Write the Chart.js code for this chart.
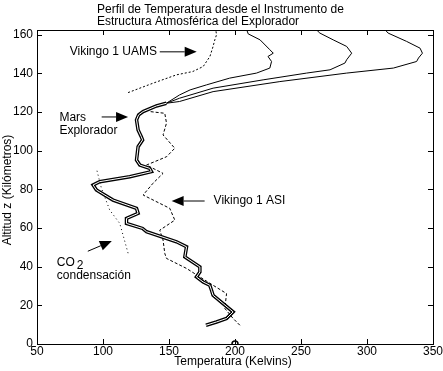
<!DOCTYPE html>
<html>
<head>
<meta charset="utf-8">
<script src="https://cdn.jsdelivr.net/npm/chart.js@4"></script>
<style>
  html, body { margin: 0; padding: 0; background: #fff; }
  #wrap { width: 443px; height: 371px; position: relative; }
</style>
</head>
<body>
<div id="wrap"><canvas id="grafica"></canvas></div>
<script>
// Ejes
const xTicks = [50, 100, 150, 200, 250, 300, 350];
const yTicks = [0, 20, 40, 60, 80, 100, 120, 140, 160];

// Perfil del Explorador (parte comun, T en K, z en km)
const marsLower = [
  [178, 9.7], [186, 11.4], [193.6, 13.2], [198.6, 16.6], [191, 20.9], [183.4, 25.2],
  [182.2, 27.8], [180.9, 30.4], [175.9, 32.1], [170.8, 34.7], [173.4, 37.3], [173.4, 39.9],
  [162, 45.1], [163.3, 50.3], [155.7, 52.9], [133, 58.1], [130, 59.8], [117.8, 62.4],
  [117.8, 65], [126.6, 67.6], [125.4, 70.2], [107.6, 74.5], [95, 79.7], [92.5, 82.3],
  [97.5, 84], [120.3, 86.6], [136.7, 89.2], [135.4, 90.9], [127.9, 92.6], [125.4, 95.2],
  [126.6, 102.1], [130, 105.6], [129, 107.3], [126.6, 110.8], [125.4, 116], [127, 118.6],
  [130.4, 120.3], [140.5, 123.2], [148, 124.6]
];
// Tres ramas sobre ~125 km
const marsBranchA = [
  [148, 124.6], [158, 128.9], [166, 131.5], [178.4, 134.1], [196, 137.6], [216.3, 140.2],
  [226.4, 142.8], [227.7, 146.2], [225, 148.8], [229, 150.5], [226.4, 152.3], [219, 157.4],
  [210, 160.5], [209, 162.4]
];
const marsBranchB = [
  [148, 124.6], [158, 127.2], [183.4, 132.4], [221.3, 136.7], [254.2, 140.2], [272, 141.9],
  [283.3, 145.4], [284.6, 147.1], [288.4, 150.5], [284.6, 154], [274.4, 157.4], [264.3, 160.9],
  [262, 162.4]
];
const marsBranchC = [
  [148, 124.6], [158, 125.5], [183.4, 130.6], [234, 135.8], [284.6, 140.2], [320, 142.8],
  [337.6, 146.2], [339, 148], [342, 150.5], [340.2, 153.1], [330, 156.6], [316, 160.9],
  [314, 162.4]
];
const vikingUAMS = [
  [119, 130.1], [138, 135], [155.7, 139.3], [168, 141], [175.9, 143.6], [181, 148.8],
  [183.4, 154], [184.7, 157.4], [186, 160], [185.5, 162.4]
];
const vikingASI = [
  [203.7, 9.7], [198.6, 13.2], [192.3, 18.4], [193.6, 26.1], [183.4, 30.4], [173.4, 34.7],
  [163.3, 39.1], [148.1, 44.3], [146.8, 46.9], [145.5, 53.8], [143, 58.9], [154.4, 64.1],
  [150.6, 70.2], [130.4, 77.1], [137.9, 83.2], [145.5, 88.3], [132.9, 92.6], [148.1, 96.9],
  [154.4, 101.3], [145.5, 108.2], [148.1, 114.3], [146.8, 119.4], [135.4, 120.3]
];
const co2Cond = [[119, 47], [112.7, 62.4], [105.1, 69.3], [98.8, 80.6], [95, 90.9]];
const surfaceMark = [[200, 0]];

// Etiquetas con flecha (coordenadas en unidades de datos)
const notes = [
  { lines: ['Vikingo 1 UAMS'], t: 74.8, z: 151.2, from: [143, 151.2], to: [171, 151.2] },
  { lines: ['Mars', 'Explorador'], t: 67, z: 117, from: [99, 117.5], to: [119, 117.5] },
  { lines: ['Vikingo 1 ASI'], t: 183.8, z: 74, from: [177, 74], to: [152, 74] },
  { lines: ['CO|2', 'condensación'], t: 65, z: 42.3, from: [88.5, 48], to: [106.7, 53.3] }
];

const toXY = arr => arr.map(p => ({ x: p[0], y: p[1] }));
const FONT = '"Liberation Sans", Arial, sans-serif';

function serie(data, color, width, dash, order) {
  return {
    data: toXY(data), showLine: true, borderColor: color, borderWidth: width,
    borderDash: dash || [], pointRadius: 0, fill: false, tension: 0, order: order
  };
}

const decor = {
  id: 'decor',
  afterDatasetsDraw(chart) {
    const { ctx, chartArea: a, scales: { x, y } } = chart;
    ctx.save();
    ctx.strokeStyle = '#000';
    ctx.lineWidth = 1;
    ctx.strokeRect(Math.round(a.left) + 0.5, Math.round(a.top) + 0.5,
      Math.round(a.right - a.left), Math.round(a.bottom - a.top));
    ctx.beginPath();
    xTicks.forEach(v => {
      const px = Math.round(x.getPixelForValue(v)) + 0.5;
      ctx.moveTo(px, a.bottom); ctx.lineTo(px, a.bottom - 5);
      ctx.moveTo(px, a.top); ctx.lineTo(px, a.top + 5);
    });
    yTicks.forEach(v => {
      const py = Math.round(y.getPixelForValue(v)) + 0.5;
      ctx.moveTo(a.left, py); ctx.lineTo(a.left + 5, py);
      ctx.moveTo(a.right, py); ctx.lineTo(a.right - 5, py);
    });
    ctx.stroke();

    // titulo y etiquetas de ejes
    ctx.fillStyle = '#000';
    ctx.font = '12px ' + FONT;
    ctx.textBaseline = 'middle';
    ctx.textAlign = 'left';
    ctx.fillText('Perfil de Temperatura desde el Instrumento de', 97, 10);
    ctx.fillText('Estructura Atmosférica del Explorador', 97, 22);
    ctx.textAlign = 'center';
    ctx.fillText('Temperatura (Kelvins)', (a.left + a.right) / 2 - 2, 362);
    ctx.save();
    ctx.translate(8, (a.top + a.bottom) / 2 + 3);
    ctx.rotate(-Math.PI / 2);
    ctx.fillText('Altitud z (Kilómetros)', 0, 0);
    ctx.restore();

    // notas y flechas
    ctx.textAlign = 'left';
    notes.forEach(n => {
      const px = x.getPixelForValue(n.t);
      let py = y.getPixelForValue(n.z);
      n.lines.forEach(l => {
        if (l.includes('|')) {
          const [base, sub] = l.split('|');
          ctx.fillText(base, px, py);
          const w = ctx.measureText(base).width;
          ctx.fillText(sub, px + w + 2, py + 3);
        } else {
          ctx.fillText(l, px, py);
        }
        py += 13;
      });
      const x0 = x.getPixelForValue(n.from[0]), y0 = y.getPixelForValue(n.from[1]);
      const x1 = x.getPixelForValue(n.to[0]), y1 = y.getPixelForValue(n.to[1]);
      const ang = Math.atan2(y1 - y0, x1 - x0);
      const hl = 12, hw = 5;
      const bx = x1 - hl * Math.cos(ang), by = y1 - hl * Math.sin(ang);
      ctx.beginPath();
      ctx.moveTo(x0, y0); ctx.lineTo(bx, by);
      ctx.stroke();
      ctx.beginPath();
      ctx.moveTo(x1, y1);
      ctx.lineTo(bx + hw * Math.sin(ang), by - hw * Math.cos(ang));
      ctx.lineTo(bx - hw * Math.sin(ang), by + hw * Math.cos(ang));
      ctx.closePath();
      ctx.fill();
    });
    ctx.restore();
  }
};

new Chart(document.getElementById('grafica'), {
  type: 'scatter',
  data: {
    datasets: [
      serie(co2Cond, '#000', 1, [1, 3], 3),
      serie(vikingUAMS, '#000', 1, [2, 2], 3),
      serie(vikingASI, '#000', 1, [3, 2], 3),
      serie(marsBranchA, '#000', 1, null, 3),
      serie(marsBranchB, '#000', 1, null, 3),
      serie(marsBranchC, '#000', 1, null, 3),
      serie(marsLower, '#000', 3.5, null, 2),
      serie(marsLower, '#fff', 1, null, 1),
      {
        data: toXY(surfaceMark), showLine: false, pointRadius: 3, pointStyle: 'circle', order: 0,
        pointBackgroundColor: 'rgba(0,0,0,0)', pointBorderColor: '#000', pointBorderWidth: 1.5
      }
    ]
  },
  options: {
    responsive: true,
    maintainAspectRatio: false,
    animation: false,
    layout: { padding: { top: 30, right: 10, left: 0, bottom: 0 } },
    plugins: { legend: { display: false }, tooltip: { enabled: false }, title: { display: false } },
    scales: {
      x: {
        type: 'linear', min: 50, max: 350,
        afterFit: s => { s.height = 27; },
        afterBuildTicks: s => { s.ticks = xTicks.map(v => ({ value: v })); },
        grid: { display: false, drawTicks: false },
        border: { display: false },
        ticks: { color: '#000', font: { size: 12, family: FONT }, padding: 0, maxRotation: 0 }
      },
      y: {
        type: 'linear', min: 0, max: 162.5,
        afterFit: s => { s.width = 37; },
        afterBuildTicks: s => { s.ticks = yTicks.map(v => ({ value: v })); },
        grid: { display: false, drawTicks: false },
        border: { display: false },
        ticks: { color: '#000', font: { size: 12, family: FONT }, padding: 4 }
      }
    }
  },
  plugins: [decor]
});
</script>
</body>
</html>
